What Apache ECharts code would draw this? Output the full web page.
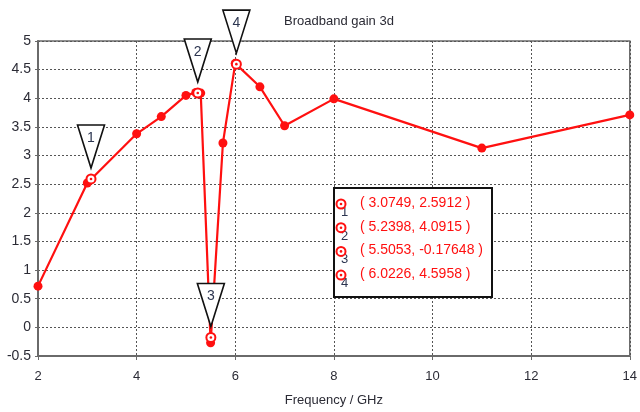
<!DOCTYPE html>
<html>
<head>
<meta charset="utf-8">
<script src="https://cdn.jsdelivr.net/npm/echarts@6/dist/echarts.min.js"></script>
<style>
html,body{margin:0;padding:0;background:#fff;}
#chart{width:640px;height:412px;}
</style>
</head>
<body>
<div id="chart"></div>
<script>
// ---- data ----
var title = 'Broadband gain 3d';
var xAxisName = 'Frequency / GHz';
var freq = [2, 3, 4, 4.5, 5, 5.2, 5.3, 5.5, 5.75, 6, 6.5, 7, 8, 11, 14];
var gain = [0.72, 2.52, 3.38, 3.68, 4.05, 4.1, 4.09, -0.27, 3.22, 4.61, 4.2, 3.52, 3.99, 3.13, 3.71];
var markerLabels = ['1', '2', '3', '4'];
var markerX = [3.0749, 5.2398, 5.5053, 6.0226];
var markerY = [2.5912, 4.0915, -0.17648, 4.5958];
var markerXText = ['3.0749', '5.2398', '5.5053', '6.0226'];
var markerYText = ['2.5912', '4.0915', '-0.17648', '4.5958'];

var RED = '#ff1010';
var chart = echarts.init(document.getElementById('chart'), null, {renderer: 'canvas'});

var lineData = freq.map(function (f, i) { return [f, gain[i]]; });
var markerData = markerX.map(function (x, i) { return [x, markerY[i], markerLabels[i]]; });

function ringGroup(cx, cy, z) {
  var a = {type: 'circle', shape: {cx: cx, cy: cy, r: 4.5}, style: {fill: '#fff', stroke: RED, lineWidth: 2}};
  var b = {type: 'circle', shape: {cx: cx, cy: cy, r: 1.3}, style: {fill: RED}};
  if (z !== undefined) { a.z = z; b.z = z + 1; }
  return [a, b];
}

// legend box graphics
var graphics = [{
  type: 'rect', left: 333, top: 187, z: 100,
  shape: {width: 158, height: 109},
  style: {fill: '#fff', stroke: '#111', lineWidth: 2}
}];
markerLabels.forEach(function (lab, i) {
  var cy = 204 + i * 23.7;
  graphics.push({type: 'text', z: 101, left: 341, top: cy + 2,
    style: {text: lab, fill: '#2c3550', font: '13px "Liberation Sans"'}});
  ringGroup(341, cy, 102).forEach(function (g) { graphics.push(g); });
  graphics.push({type: 'text', z: 101, left: 360, top: cy - 8,
    style: {text: '( ' + markerXText[i] + ', ' + markerYText[i] + ' )', fill: RED, font: '14px "Liberation Sans"'}});
});

var option = {
  animation: false,
  backgroundColor: '#fff',
  title: {
    text: title, left: 279, top: 10,
    textStyle: {fontFamily: 'Liberation Sans', fontSize: 13, fontWeight: 'normal', color: '#2b2b35'}
  },
  grid: {left: 38, right: 7, top: 41, bottom: 55, show: true, borderColor: '#6a6a6a', borderWidth: 1.5},
  xAxis: {
    type: 'value', min: 2, max: 14, interval: 2,
    name: xAxisName, nameLocation: 'middle', nameGap: 38,
    nameTextStyle: {fontFamily: 'Liberation Sans', fontSize: 13, color: '#2b2b35'},
    axisLine: {show: true, onZero: false, lineStyle: {color: '#6a6a6a', width: 2}},
    axisTick: {show: true, length: 4, lineStyle: {color: '#6a6a6a'}},
    axisLabel: {fontFamily: 'Liberation Sans', fontSize: 13, color: '#2b2b35', margin: 14},
    splitLine: {show: true, lineStyle: {color: '#555', width: 1, type: [2, 2]}}
  },
  yAxis: {
    type: 'value', min: -0.5, max: 5, interval: 0.5,
    axisLine: {show: true, onZero: false, lineStyle: {color: '#6a6a6a', width: 2}},
    axisTick: {show: true, length: 3, lineStyle: {color: '#6a6a6a'}},
    axisLabel: {fontFamily: 'Liberation Sans', fontSize: 14, color: '#2b2b35', margin: 7},
    splitLine: {show: true, lineStyle: {color: '#555', width: 1, type: [2, 2]}}
  },
  series: [{
    type: 'line', data: lineData, z: 3,
    symbol: 'circle', symbolSize: 9, showSymbol: true,
    lineStyle: {color: RED, width: 2.2},
    itemStyle: {color: RED}
  }, {
    type: 'custom', data: markerData, z: 5, clip: false,
    renderItem: function (params, api) {
      var p = api.coord([api.value(0), api.value(1)]);
      var cx = p[0], cy = p[1];
      var top = cy - 54, tip = cy - 11, hw = 13.5;
      var children = ringGroup(cx, cy);
      children.push({type: 'polygon', shape: {points: [[cx - hw, top], [cx + hw, top], [cx, tip]]},
        style: {fill: '#fff', stroke: '#111', lineWidth: 1.6}});
      children.push({type: 'text', style: {text: markerLabels[params.dataIndex], x: cx, y: top + 13,
        align: 'center', verticalAlign: 'middle', fill: '#2c3550', font: '14px "Liberation Sans"'}});
      return {type: 'group', children: children};
    }
  }],
  graphic: graphics
};
chart.setOption(option);
</script>
</body>
</html>
